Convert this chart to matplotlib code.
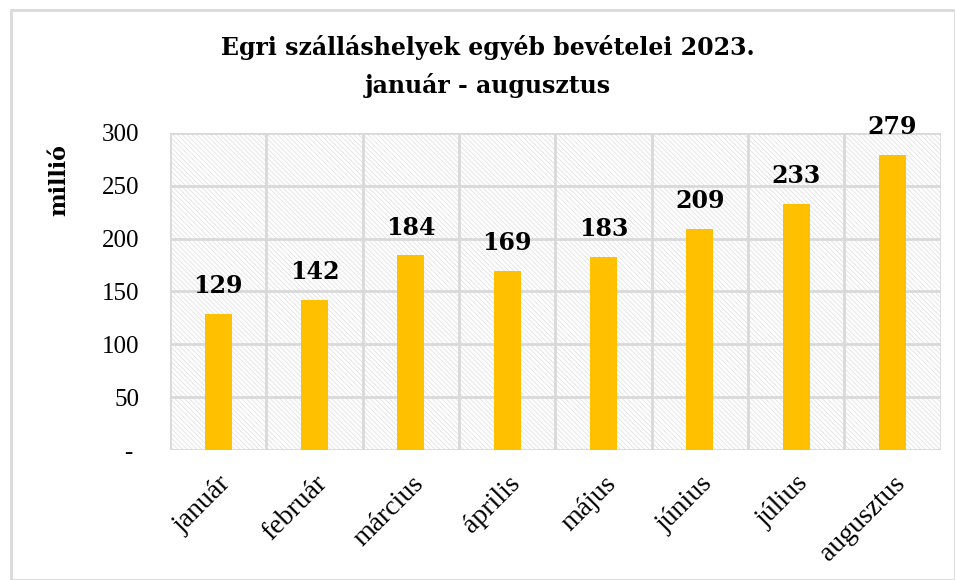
import numpy as np
import matplotlib.pyplot as plt
from matplotlib.patches import Rectangle

# adatok
honapok = ['január', 'február', 'március', 'április', 'május', 'június', 'július', 'augusztus']
bevetel = [129, 142, 184, 169, 183, 209, 233, 279]
y_ticks = [0, 50, 100, 150, 200, 250, 300]
y_tick_labels = ['- ', '50', '100', '150', '200', '250', '300']

plt.rcParams['font.family'] = ['Liberation Serif', 'DejaVu Serif']
plt.rcParams['hatch.color'] = '#e2e2e2'
plt.rcParams['hatch.linewidth'] = 0.6

fig = plt.figure(figsize=(9.55, 5.8), dpi=100)
# keret a diagram körül
fig.patches.append(Rectangle((0.011, 0.0), 0.989, 0.983, transform=fig.transFigure,
                             fill=False, edgecolor='#d9d9d9', linewidth=2))

ax = fig.add_axes([0.178, 0.224, 0.807, 0.547])
x = np.arange(len(honapok))

# sraffozott háttér
ax.add_patch(Rectangle((-0.5, 0), len(honapok), 300, facecolor='white', edgecolor='#e2e2e2',
                       hatch='\\' * 7, linewidth=0, zorder=0))

ax.bar(x, bevetel, width=0.28, color='#FFC000', zorder=3)

for xi, v in zip(x, bevetel):
    ax.text(xi, v + 15, str(v), ha='center', va='bottom', fontsize=17,
            fontweight='bold', family='DejaVu Serif', zorder=4)

ax.set_xlim(-0.5, len(honapok) - 0.5)
ax.set_ylim(0, 300)
ax.set_yticks(y_ticks)
ax.set_yticklabels(y_tick_labels, fontsize=18)
ax.set_xticks(x)
ax.set_xticklabels(honapok, rotation=45, ha='right', rotation_mode='anchor', fontsize=20)
ax.tick_params(length=0)
ax.tick_params(axis='y', pad=22)
ax.tick_params(axis='x', pad=15)

# rácsvonalak
for yv in y_ticks:
    ax.axhline(yv, color='#d9d9d9', linewidth=2, zorder=1)
for xb in np.arange(-0.5, len(honapok) + 0.5, 1):
    ax.axvline(xb, color='#d9d9d9', linewidth=2, zorder=1)
for s in ax.spines.values():
    s.set_visible(False)

ax.set_ylabel('millió', fontsize=16, fontweight='bold', family='DejaVu Serif')
ax.yaxis.set_label_coords(-0.13, 0.85)

fig.text(0.511, 0.918, 'Egri szálláshelyek egyéb bevételei 2023.', ha='center', va='center',
         fontsize=17, fontweight='bold', family='DejaVu Serif')
fig.text(0.511, 0.853, 'január - augusztus', ha='center', va='center',
         fontsize=17, fontweight='bold', family='DejaVu Serif')

fig.savefig('out.png', dpi=100)
